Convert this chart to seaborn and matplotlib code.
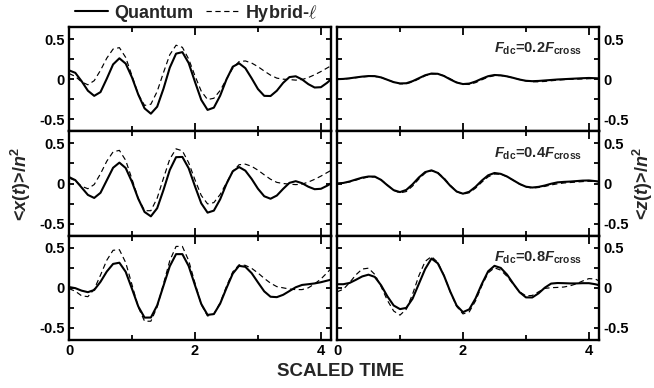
import numpy as np
import seaborn as sns
import matplotlib
matplotlib.use("Agg")
import matplotlib.pyplot as plt
from matplotlib.lines import Line2D

# Scaled time grid shared by every trace
scaled_time = np.round(np.arange(43) * 0.1, 1)

# <x(t)>/n^2, F_dc = 0.2 F_cross
x_quantum_02 = [0.11, 0.079, -0.025, -0.144, -0.208, -0.161, 0.006, 0.184, 0.26, 0.194, 0.022, -0.192, -0.364, -0.43, -0.343, -0.119, 0.143, 0.318, 0.337, 0.201, -0.033, -0.258, -0.383, -0.355, -0.206, -0.004, 0.155, 0.198, 0.137, 0.011, -0.123, -0.208, -0.21, -0.144, -0.046, 0.026, 0.036, -0.003, -0.062, -0.104, -0.1, -0.044, 0.028]
x_hybrid_02 = [0.07, 0.035, -0.035, -0.07, -0.019, 0.11, 0.262, 0.375, 0.393, 0.271, 0.043, -0.19, -0.327, -0.312, -0.153, 0.082, 0.304, 0.423, 0.397, 0.251, 0.042, -0.15, -0.254, -0.238, -0.141, 0.0, 0.137, 0.219, 0.227, 0.201, 0.156, 0.101, 0.05, 0.013, 0.0, -0.005, -0.012, -0.005, 0.02, 0.055, 0.095, 0.14, 0.185]

# <x(t)>/n^2, F_dc = 0.4 F_cross
x_quantum_04 = [0.08, 0.042, -0.05, -0.142, -0.18, -0.116, 0.04, 0.196, 0.26, 0.193, 0.02, -0.191, -0.355, -0.409, -0.308, -0.081, 0.168, 0.328, 0.331, 0.19, -0.034, -0.247, -0.363, -0.338, -0.197, -0.005, 0.152, 0.205, 0.16, 0.057, -0.065, -0.159, -0.19, -0.15, -0.067, 0.008, 0.029, 0.004, -0.04, -0.071, -0.066, -0.027, 0.02]
x_hybrid_04 = [0.07, 0.035, -0.035, -0.065, -0.013, 0.121, 0.278, 0.394, 0.413, 0.289, 0.055, -0.187, -0.339, -0.339, -0.182, 0.066, 0.304, 0.432, 0.407, 0.259, 0.046, -0.149, -0.254, -0.238, -0.137, 0.008, 0.149, 0.234, 0.241, 0.214, 0.166, 0.108, 0.053, 0.014, 0.0, -0.008, -0.014, -0.008, 0.018, 0.052, 0.092, 0.137, 0.18]

# <x(t)>/n^2, F_dc = 0.8 F_cross
x_quantum_08 = [0.01, -0.004, -0.035, -0.054, -0.027, 0.075, 0.203, 0.298, 0.313, 0.20, -0.012, -0.232, -0.371, -0.37, -0.219, 0.025, 0.269, 0.42, 0.42, 0.272, 0.033, -0.201, -0.337, -0.327, -0.197, -0.004, 0.177, 0.274, 0.262, 0.183, 0.068, -0.044, -0.111, -0.116, -0.087, -0.04, 0.007, 0.036, 0.045, 0.055, 0.07, 0.09, 0.11]
x_hybrid_08 = [-0.01, -0.042, -0.099, -0.11, -0.017, 0.158, 0.344, 0.468, 0.475, 0.315, 0.039, -0.241, -0.416, -0.416, -0.238, 0.05, 0.338, 0.516, 0.516, 0.34, 0.06, -0.207, -0.351, -0.328, -0.185, 0.017, 0.199, 0.287, 0.28, 0.243, 0.185, 0.118, 0.058, 0.015, 0.0, -0.015, -0.022, -0.022, 0.0, 0.05, 0.11, 0.19, 0.27]

# <z(t)>/n^2, F_dc = 0.2 F_cross
z_quantum_02 = [0.0, 0.003, 0.011, 0.022, 0.032, 0.039, 0.038, 0.022, -0.0075, -0.037, -0.053, -0.051, -0.025, 0.012, 0.049, 0.07, 0.067, 0.039, -0.004, -0.042, -0.061, -0.055, -0.029, 0.006, 0.037, 0.052, 0.048, 0.035, 0.016, -0.005, -0.02, -0.025, -0.022, -0.016, -0.01, -0.004, 0.0, 0.004, 0.008, 0.012, 0.015, 0.012, 0.008]
z_hybrid_02 = [0.0, 0.002, 0.008, 0.018, 0.028, 0.034, 0.034, 0.021, -0.006, -0.037, -0.058, -0.058, -0.034, 0.003, 0.042, 0.064, 0.066, 0.043, 0.004, -0.038, -0.064, -0.066, -0.043, -0.008, 0.026, 0.044, 0.045, 0.034, 0.016, -0.004, -0.022, -0.032, -0.033, -0.028, -0.02, -0.012, -0.006, -0.002, 0.0, 0.003, 0.006, 0.008, 0.008]

# <z(t)>/n^2, F_dc = 0.4 F_cross
z_quantum_04 = [0.0, 0.007, 0.025, 0.05, 0.073, 0.087, 0.086, 0.045, -0.022, -0.083, -0.107, -0.08, -0.01, 0.075, 0.142, 0.164, 0.132, 0.058, -0.03, -0.10, -0.127, -0.103, -0.041, 0.037, 0.102, 0.131, 0.12, 0.087, 0.04, -0.006, -0.04, -0.05, -0.042, -0.025, -0.003, 0.014, 0.02, 0.024, 0.03, 0.036, 0.038, 0.03, 0.02]
z_hybrid_04 = [0.0, 0.005, 0.02, 0.042, 0.065, 0.08, 0.082, 0.046, -0.018, -0.085, -0.118, -0.1, -0.032, 0.056, 0.13, 0.16, 0.138, 0.068, -0.022, -0.1, -0.132, -0.115, -0.058, 0.017, 0.083, 0.118, 0.116, 0.086, 0.04, -0.008, -0.044, -0.056, -0.05, -0.036, -0.018, -0.004, 0.006, 0.012, 0.018, 0.024, 0.028, 0.026, 0.02]

# <z(t)>/n^2, F_dc = 0.8 F_cross
z_quantum_08 = [0.045, 0.045, 0.061, 0.1, 0.142, 0.164, 0.136, 0.032, -0.106, -0.22, -0.265, -0.25, -0.135, 0.05, 0.235, 0.365, 0.306, 0.149, -0.05, -0.221, -0.303, -0.268, -0.132, 0.049, 0.206, 0.274, 0.248, 0.165, 0.051, -0.055, -0.119, -0.12, -0.069, 0.002, 0.053, 0.06, 0.058, 0.055, 0.055, 0.058, 0.058, 0.045, 0.025]
z_hybrid_08 = [-0.05, -0.018, 0.065, 0.162, 0.234, 0.245, 0.167, 0.016, -0.156, -0.289, -0.34, -0.267, -0.079, 0.151, 0.33, 0.39, 0.318, 0.153, -0.053, -0.231, -0.325, -0.299, -0.162, 0.027, 0.186, 0.25, 0.22, 0.143, 0.042, -0.05, -0.1, -0.095, -0.05, -0.007, 0.002, 0.005, 0.01, 0.025, 0.05, 0.085, 0.115, 0.11, 0.07]

field_labels = ["0.2", "0.4", "0.8"]
x_ticks = [0, 2, 4]
x_tick_labels = ["0", "2", "4"]
y_ticks = [-0.5, 0, 0.5]
y_tick_labels = ["-0.5", "0", "0.5"]
legend_labels = ["Quantum", r"Hybrid-$\mathsf{\ell}$"]

panels = [
    [(x_quantum_02, x_hybrid_02), (z_quantum_02, z_hybrid_02)],
    [(x_quantum_04, x_hybrid_04), (z_quantum_04, z_hybrid_04)],
    [(x_quantum_08, x_hybrid_08), (z_quantum_08, z_hybrid_08)],
]

sns.set_theme(style="ticks")
plt.rcParams.update({
    "font.family": ["Liberation Sans", "DejaVu Sans"],
    "font.weight": "bold",
    "mathtext.fontset": "custom",
    "mathtext.rm": "Liberation Sans:bold",
    "mathtext.it": "Liberation Sans:italic:bold",
    "mathtext.bf": "Liberation Sans:bold",
    "mathtext.sf": "DejaVu Serif:italic",
    "axes.linewidth": 1.7,
    "axes.edgecolor": "black",
    "axes.unicode_minus": False,
    "xtick.color": "black",
    "ytick.color": "black",
})

W, H = 654, 388
fig = plt.figure(figsize=(W / 100, H / 100), dpi=100)

col_left = [69 / W, 337 / W]
ax_w = 262 / W
top_px = 27
row_px = 313 / 3

solid_kw = dict(color="black", linewidth=1.5, solid_joinstyle="round")
dash_kw = dict(color="black", linewidth=0.85, linestyle=(0, (4.5, 3)))

for r in range(3):
    for c in range(2):
        y0 = 1 - (top_px + (r + 1) * row_px) / H
        ax = fig.add_axes([col_left[c], y0, ax_w, row_px / H])
        quantum, hybrid = panels[r][c]
        sns.lineplot(x=scaled_time, y=quantum, ax=ax, **solid_kw)
        sns.lineplot(x=scaled_time, y=hybrid, ax=ax, **dash_kw)

        ax.set_xlim(0, 4.16)
        ax.set_ylim(-0.65, 0.65)
        ax.set_xticks(x_ticks)
        ax.set_xticks([1, 3], minor=True)
        ax.set_yticks(y_ticks)
        ax.set_yticks([-0.25, 0.25], minor=True)
        ax.set_xticklabels(x_tick_labels)
        ax.set_yticklabels(y_tick_labels)
        ax.tick_params(which="both", direction="in", top=True, right=True,
                       bottom=True, left=True, width=1.3, labelsize=10.5, pad=3)
        ax.tick_params(axis="x", which="major", length=5.5)
        ax.tick_params(axis="x", which="minor", length=3.5)
        ax.tick_params(axis="y", which="both", length=3.5)
        ax.tick_params(axis="y", labelleft=(c == 0), labelright=(c == 1))
        ax.tick_params(axis="x", labelbottom=(r == 2))
        ax.set_xlabel("")
        ax.set_ylabel("")
        for lab in ax.get_xticklabels() + ax.get_yticklabels():
            lab.set_fontweight("bold")

        if c == 1:
            ax.text(0.937, 0.75,
                    r"$F_{\rm dc}$=" + field_labels[r] + r"$F_{\rm cross}$",
                    transform=ax.transAxes, ha="right", va="baseline",
                    fontsize=10.5, fontweight="bold")

fig.text(21 / W, 1 - 183.5 / H, r"<$x$($t$)>/$n^2$", rotation=90,
         ha="center", va="center", fontsize=13, fontweight="bold")
fig.text(643 / W, 1 - 183.5 / H, r"<$z$($t$)>/$n^2$", rotation=90,
         ha="center", va="center", fontsize=13, fontweight="bold")
fig.text(341 / W, 1 - 372 / H, "SCALED TIME", ha="center", va="center",
         fontsize=13.5, fontweight="bold")

handles = [Line2D([], [], **solid_kw), Line2D([], [], **dash_kw)]
fig.legend(handles=handles, labels=legend_labels, loc="center",
           bbox_to_anchor=(196 / W, 1 - 13 / H), ncol=2, frameon=False,
           prop={"size": 13, "weight": "bold"}, handlelength=1.8,
           handletextpad=0.35, columnspacing=0.7, borderpad=0,
           borderaxespad=0)

fig.savefig("out.png", dpi=100)
